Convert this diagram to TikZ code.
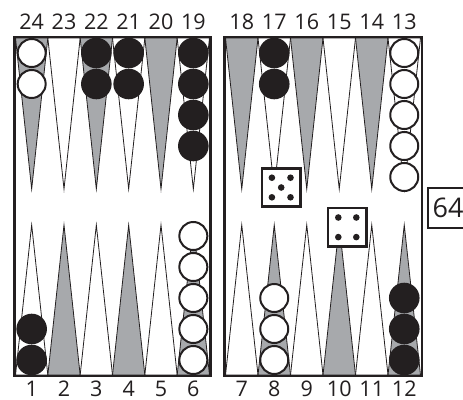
\documentclass[tikz,border=0pt]{standalone}
\usepackage{fontspec}
\setmainfont{Open Sans}
\definecolor{pgrey}{RGB}{167,169,172}
\definecolor{ink}{RGB}{35,31,32}
\begin{document}
\begin{tikzpicture}[x=1pt,y=-1pt,
  boardframe/.style={draw=ink, line width=2.4pt},
  tri/.style={draw=ink, line width=0.8pt, line join=miter},
  whitechk/.style={circle, draw=ink, fill=white, line width=2pt, minimum size=28pt, inner sep=0pt},
  blackchk/.style={circle, fill=ink, minimum size=30.6pt, inner sep=0pt},
  lbl/.style={font=\fontsize{21.5}{24}\selectfont, text=ink, inner sep=0pt},
  die/.style={draw=ink, fill=white, line width=2.6pt, minimum size=38.4pt, inner sep=0pt},
  pip/.style={fill=ink},
  cubebox/.style={draw=ink, fill=white, line width=1.6pt, minimum width=40pt, minimum height=40pt, inner sep=0pt, font=\fontsize{27}{30}\selectfont, text=ink}
]
\useasboundingbox (0,0) rectangle (463,399);
\fill[white] (0,0) rectangle (463,399);

% triangles, left board (columns 1..6: top 24..19, bottom 1..6)
\foreach \c/\tc/\bc in {1/pgrey/white,2/white/pgrey,3/pgrey/white,4/white/pgrey,5/pgrey/white,6/white/pgrey}{
  \pgfmathsetmacro\xl{15.5+(\c-1)*32.333}
  \pgfmathsetmacro\xr{\xl+32.333}
  \pgfmathsetmacro\xm{\xl+16.167}
  \draw[tri, fill=\tc] (\xl,38) -- (\xm,189) -- (\xr,38) -- cycle;
  \draw[tri, fill=\bc] (\xl,375) -- (\xm,225) -- (\xr,375) -- cycle;
}
% triangles, right board (columns 1..6: top 18..13, bottom 7..12)
\foreach \c/\tc/\bc in {1/pgrey/white,2/white/pgrey,3/pgrey/white,4/white/pgrey,5/pgrey/white,6/white/pgrey}{
  \pgfmathsetmacro\xl{225.5+(\c-1)*32.5}
  \pgfmathsetmacro\xr{\xl+32.5}
  \pgfmathsetmacro\xm{\xl+16.25}
  \draw[tri, fill=\tc] (\xl,38) -- (\xm,189) -- (\xr,38) -- cycle;
  \draw[tri, fill=\bc] (\xl,375) -- (\xm,225) -- (\xr,375) -- cycle;
}

% board frames
\draw[boardframe] (14.3,36.8) rectangle (210.5,376);
\draw[boardframe] (224.3,36.8) rectangle (421.7,376);

% labels
\foreach \n [count=\c] in {24,23,22,21,20,19}{
  \node[lbl] (t\n) at ({15.5+(\c-0.5)*32.333},22) {\n};
}
\foreach \n [count=\c] in {18,17,16,15,14,13}{
  \node[lbl] (t\n) at ({225.5+(\c-0.5)*32.5},22) {\n};
}
\foreach \n [count=\c] in {1,2,3,4,5,6}{
  \node[lbl] (b\n) at ({15.5+(\c-0.5)*32.333},388.5) {\n};
}
\foreach \n [count=\c] in {7,8,9,10,11,12}{
  \node[lbl] (b\n) at ({225.5+(\c-0.5)*32.5},388.5) {\n};
}

% checkers (top)
\foreach \k in {1,2}{ \node[whitechk] (p24-\k) at (31.67,{53+31*(\k-1)}) {}; }
\foreach \k in {1,2}{ \node[blackchk] (p22-\k) at (96.33,{53+31*(\k-1)}) {}; }
\foreach \k in {1,2}{ \node[blackchk] (p21-\k) at (128.67,{53+31*(\k-1)}) {}; }
\foreach \k in {1,...,4}{ \node[blackchk] (p19-\k) at (193.33,{53+31*(\k-1)}) {}; }
\foreach \k in {1,2}{ \node[blackchk] (p17-\k) at (274.25,{53+31*(\k-1)}) {}; }
\foreach \k in {1,...,5}{ \node[whitechk] (p13-\k) at (404.25,{53+31*(\k-1)}) {}; }
% checkers (bottom)
\foreach \k in {1,2}{ \node[blackchk] (p1-\k) at (31.67,{360-31*(\k-1)}) {}; }
\foreach \k in {1,...,5}{ \node[whitechk] (p6-\k) at (193.33,{360-31*(\k-1)}) {}; }
\foreach \k in {1,...,3}{ \node[whitechk] (p8-\k) at (274.25,{360-31*(\k-1)}) {}; }
\foreach \k in {1,...,3}{ \node[blackchk] (p12-\k) at (404.25,{360-31*(\k-1)}) {}; }

% dice
\node[die] (d5) at (281.2,187.5) {};
\foreach \dx/\dy in {-9.3/-9.8, 9.3/-9.8, 0/0, -9.3/9.8, 9.3/9.8}{
  \fill[pip] ([shift={(\dx,\dy)}]d5.center) circle (3.3);
}
\node[die] (d4) at (347.3,227.3) {};
\foreach \dx/\dy in {-9/-9.8, 9/-9.8, -9/9.8, 9/9.8}{
  \fill[pip] ([shift={(\dx,\dy)}]d4.center) circle (3.3);
}

% doubling cube
\node[cubebox] (cube) at (448,208) {64};
\end{tikzpicture}
\end{document}
